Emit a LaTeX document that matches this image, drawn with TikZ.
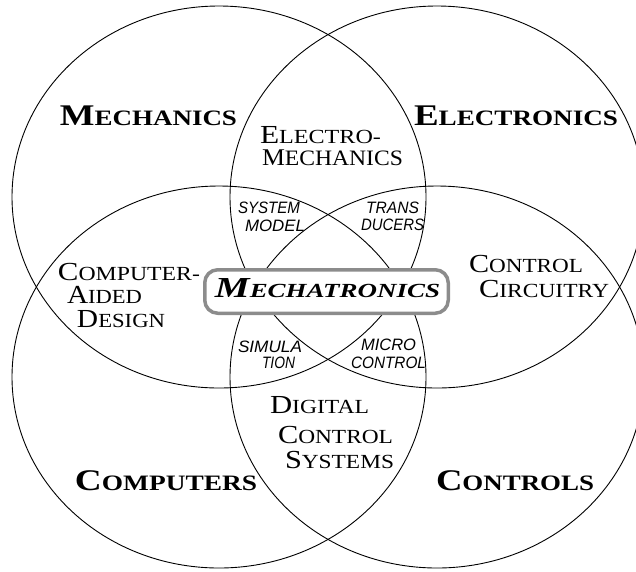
\documentclass[tikz,border=0pt]{standalone}
\usepackage{fontspec}
\usepackage{graphicx}
\setmainfont{Liberation Serif}
\newfontfamily\smallsans{Liberation Sans}
\newcommand\fw[2]{\resizebox{#1pt}{\height}{#2}}
\newcommand\scap[4]{{\fontsize{#1pt}{#1pt}\selectfont #3}{\fontsize{#2pt}{#2pt}\selectfont #4}}
\newcommand\ssans[1]{{\smallsans\itshape\fontsize{16.5pt}{16.5pt}\selectfont #1}}
\tikzset{
  lbl/.style={inner sep=0pt, anchor=base},
  ring/.style={draw=black, line width=0.9pt},
  hubbox/.style={draw=black!45, line width=3.5pt, fill=white, rounded corners=13pt,
    minimum width=243.5pt, minimum height=43.5pt, inner sep=0pt}
}
\begin{document}
\begin{tikzpicture}[x=1pt,y=-1pt]
\useasboundingbox (0,0) rectangle (636,571);
% circles
\draw[ring] (219,197) ellipse [x radius=207pt, y radius=191pt];
\draw[ring] (437,197) ellipse [x radius=207pt, y radius=191pt];
\draw[ring] (219,377) ellipse [x radius=207pt, y radius=191pt];
\draw[ring] (437,377) ellipse [x radius=207pt, y radius=191pt];
% central box
\node[hubbox] (hub) at (326.5,291.5) {};
\node[lbl] (mtx) at (327.5,297) {\fw{225}{\bfseries\itshape\scap{29}{20}{M}{ECHATRONICS}}};
% main labels
\node[lbl] (mech) at (148.5,125) {\fw{177}{\bfseries\scap{30}{22}{M}{ECHANICS}}};
\node[lbl] (elec) at (516,125) {\fw{204}{\bfseries\scap{30}{22}{E}{LECTRONICS}}};
\node[lbl] (comp) at (166,490) {\fw{182}{\bfseries\scap{30}{22}{C}{OMPUTERS}}};
\node[lbl] (ctrl) at (515,490) {\fw{158}{\bfseries\scap{30}{22}{C}{ONTROLS}}};
% overlap labels
\node[lbl] (em1) at (320.5,143) {\fw{121}{\scap{26}{20}{E}{LECTRO-}}};
\node[lbl] (em2) at (332.5,165) {\fw{141}{\scap{24}{22}{M}{ECHANICS}}};
\node[lbl] (cad1) at (129,280) {\fw{142}{\scap{26}{20}{C}{OMPUTER-}}};
\node[lbl] (cad2) at (104.5,303) {\fw{75}{\scap{26}{20}{A}{IDED}}};
\node[lbl] (cad3) at (121,327) {\fw{88}{\scap{26}{20}{D}{ESIGN}}};
\node[lbl] (cc1) at (526,272) {\fw{114}{\scap{26}{20}{C}{ONTROL}}};
\node[lbl] (cc2) at (544,297) {\fw{130}{\scap{26}{20}{C}{IRCUITRY}}};
\node[lbl] (dcs1) at (319.5,413) {\fw{99}{\scap{26}{20}{D}{IGITAL}}};
\node[lbl] (dcs2) at (335.5,443) {\fw{115}{\scap{26}{20}{C}{ONTROL}}};
\node[lbl] (dcs3) at (339.5,468) {\fw{109}{\scap{26}{20}{S}{YSTEMS}}};
% small italic labels
\node[lbl] (sm1) at (269,213) {\fw{62}{\ssans{SYSTEM}}};
\node[lbl] (sm2) at (275,231) {\fw{60}{\ssans{MODEL}}};
\node[lbl] (td1) at (392.5,213) {\fw{53}{\ssans{TRANS}}};
\node[lbl] (td2) at (392.5,230) {\fw{63}{\ssans{DUCERS}}};
\node[lbl] (si1) at (270,352) {\fw{64}{\ssans{SIMULA}}};
\node[lbl] (si2) at (278.5,368) {\fw{33}{\ssans{TION}}};
\node[lbl] (mc1) at (388.5,350) {\fw{55}{\ssans{MICRO}}};
\node[lbl] (mc2) at (388.5,368) {\fw{75}{\ssans{CONTROL}}};
\end{tikzpicture}
\end{document}
